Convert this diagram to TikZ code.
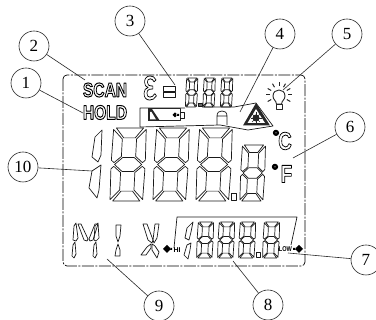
\documentclass[tikz,border=0pt]{standalone}
\usepackage{fontspec}
\setmainfont{Liberation Serif}
\newfontfamily\lcdfont{Liberation Sans}[BoldFont={Liberation Sans Bold}]
\usetikzlibrary{calc}
% one seven-segment digit: x, y of top left, width, height
\newcommand{\lcddigit}[4]{
\begin{scope}[shift={(#1,#2)},xscale=#3,yscale=#4,xslant=.11]
\draw[seg] (.10,0) -- (.90,0) -- (.67,.135) -- (.33,.135) -- cycle;
\draw[seg] (.02,.02) -- (.29,.15) -- (.29,.39) -- (.08,.475) -- (0,.44) -- cycle;
\draw[seg] (.98,.02) -- (.71,.15) -- (.71,.39) -- (.92,.475) -- (1,.44) -- cycle;
\draw[seg] (.10,.5) -- (.33,.405) -- (.67,.405) -- (.90,.5) -- (.67,.595) -- (.33,.595) -- cycle;
\draw[seg] (.02,.98) -- (.29,.85) -- (.29,.61) -- (.08,.525) -- (0,.56) -- cycle;
\draw[seg] (.98,.98) -- (.71,.85) -- (.71,.61) -- (.92,.525) -- (1,.56) -- cycle;
\draw[seg] (.10,1) -- (.90,1) -- (.67,.865) -- (.33,.865) -- cycle;
\end{scope}}
\newcommand{\hollowtext}[2]{\special{pdf:code 1 Tr #1 w}#2\special{pdf:code 0 Tr 0.55 w}}
\begin{document}
\begin{tikzpicture}[x=1pt,y=-1pt,line join=round,
 seg/.style={draw=black!90,line width=.7pt},
 callout/.style={circle,draw=black!85,line width=.6pt,minimum size=30pt,inner sep=0pt,font=\fontsize{17}{17}\selectfont},
 lead/.style={draw=black!85,line width=.6pt},
 lcdword/.style={inner sep=0pt,transform shape,font=\lcdfont\bfseries\fontsize{20}{20}\selectfont},
 small/.style={inner sep=0pt,font=\lcdfont\bfseries\fontsize{7}{7}\selectfont}]
\useasboundingbox (0,0) rectangle (376,320);
% display frame
\draw[line width=.7pt,rounded corners=4pt,dash pattern=on 12pt off 1.5pt on 2pt off 1.5pt] (63,75) rectangle (305,266);
% big digits
\foreach \x in {113,156,199}{\lcddigit{\x}{128}{34}{73}}
\lcddigit{242}{145}{24}{56}
\draw[seg] (92,157) -- (95,137) -- (102,130) -- (101,155) -- (98,162) -- cycle;
\draw[seg] (101,165) -- (92,171) -- (89,188) -- (97,198) -- (99,190) -- cycle;
\draw[seg] (231,193) rectangle (236,200);
% upper digits
\foreach \x in {186.5,204,221.5}{\lcddigit{\x}{78}{11.5}{29}}
\draw[seg,fill=black!60] (198.5,103) rectangle (202,106.5);
% lower digits
\foreach \x in {198,219,240,264}{\lcddigit{\x}{222}{16}{36}}
\draw[seg] (185,238) -- (187,228) -- (193,222) -- (191,232) -- (189,240) -- cycle;
\draw[seg] (191,243) -- (187,245) -- (184,255) -- (188,259) -- (190,250) -- cycle;
\draw[seg] (256,252) rectangle (260.5,257);
\draw[seg] (174,248) -- (177,217) -- (297,217) -- (291,245);
% mix
\draw[seg] (73,240) -- (74,226) -- (76,223) -- (78,238) -- (76,241) -- cycle;
\draw[seg] (72,256) -- (73,245) -- (75,242) -- (76,254) -- (74,258) -- cycle;
\draw[seg] (78,224) -- (81,224) -- (88,239) -- (87,241) -- (84,240) -- cycle;
\draw[seg] (98,224) -- (95,224) -- (89,239) -- (90,241) -- (93,240) -- cycle;
\draw[seg] (94,240) -- (95,226) -- (98,223) -- (99,238) -- (96,241) -- cycle;
\draw[seg] (93,256) -- (94,245) -- (96,242) -- (97,254) -- (95,258) -- cycle;
\draw[seg] (116,225) -- (121,225) -- (120,236) -- (118,242) -- (116,236) -- cycle;
\draw[seg] (115,256) -- (120,256) -- (120,250) -- (118,244) -- (116,250) -- cycle;
\draw[seg] (143,224) -- (147,224) -- (153,240) -- (152,243) -- (148,240) -- cycle;
\draw[seg] (159,224) -- (155,224) -- (153,240) -- (154,243) -- (157,238) -- cycle;
\draw[seg] (141,255) -- (146,255) -- (151,248) -- (151,244) -- (147,247) -- cycle;
\draw[seg] (157,258) -- (159,252) -- (155,246) -- (152,244) -- (152,250) -- cycle;
% hi and low marks
\fill[black] (163,249) -- (167,245) -- (171,249) -- (167,253) -- cycle (170,248) rectangle (172,250);
\node[small] (hi) at (177,250) {HI};
\node[small,transform shape,xscale=.8] (low) at (285.5,249) {LOW};
\fill[black] (295,249) -- (299,245) -- (303,249) -- (299,253) -- cycle (293,248) rectangle (296,250);
% words
\node[lcdword,xscale=.78] (scan) at (105,90) {\hollowtext{1}{SCAN}};
\node[lcdword,xscale=.78] (hold) at (105,112.5) {\hollowtext{1}{HOLD}};
\node[lcdword,xscale=.72,font=\lcdfont\fontsize{44}{44}\selectfont] (eps) at (150,88) {\hollowtext{.8}{ε}};
\draw[seg] (163,86) rectangle (175.5,91) (163,92.5) rectangle (175.5,97);
\node[lcdword,xscale=.75,font=\lcdfont\bfseries\fontsize{25}{25}\selectfont] (cel) at (285,141) {\hollowtext{.8}{C}};
\node[lcdword,xscale=.75,font=\lcdfont\bfseries\fontsize{25}{25}\selectfont] (fah) at (286.5,174) {\hollowtext{.8}{F}};
\node[small,font=\lcdfont\bfseries\fontsize{16}{16}\selectfont] (dega) at (276,136) {\hollowtext{1.2}{°}};
\node[small,font=\lcdfont\bfseries\fontsize{16}{16}\selectfont] (degb) at (275,170) {\hollowtext{1.2}{°}};
% icon panel
\draw[seg] (185,108) -- (140,108) -- (140,127) -- (220,125) -- (248,130) -- (273,126) -- (256,103) -- (234,107) -- (202,107);
% battery
\draw[line width=1pt,black!85] (180,109) -- (148,109) -- (148,121) -- (180,121) -- cycle;
\fill[black!85] (148,109) -- (152,109) -- (160,121) -- (148,121) -- cycle;
\fill[white] (150,112) -- (151.5,112) -- (156,119.5) -- (150,119.5) -- cycle;
\draw[seg] (180,112) -- (184,112) -- (184,118) -- (180,118);
\fill[black] (172.5,115) -- (175,112.5) -- (177.5,115) -- (175,117.5) -- cycle (176,114) rectangle (179,116);
% lock
\draw[seg] (217,125) -- (217,116) .. controls (217,112) and (219.5,111) .. (222,111) .. controls (224.5,111) and (227,112) .. (227,116) -- (227,125) (217,116) -- (227,116);
% laser mark
\fill[black!85] (256,103) -- (270,125.5) -- (243,125.5) -- cycle;
\fill[white] (256,109) -- (265,123) -- (247.5,123) -- cycle;
\fill[black!85] (256,118) circle (3.5pt);
\foreach \a in {0,45,...,315}{\draw[black!85,line width=.7pt] (256,118) -- ++(\a:5.5pt);}
% bulb
\draw[line width=.9pt,black!85] (276.5,104) .. controls (276,100) and (273,100) .. (273,96) .. controls (273,88) and (285,88) .. (285,96) .. controls (285,100) and (282,100) .. (281.5,104) -- cycle;
\draw[line width=.9pt,black!85] (276,104) rectangle (282,109);
\foreach \a in {-30,0,...,210}{\draw[line width=1pt,black!85] ($(279,95)+(\a:9pt)$) -- ($(279,95)+(\a:13pt)$);}
% callouts
\node[callout] (n1) at (26,83) {1};
\node[callout] (n2) at (34,46) {2};
\node[callout] (n3) at (130,21) {3};
\node[callout] (n4) at (280,34) {4};
\node[callout] (n5) at (347,34) {5};
\node[callout] (n6) at (350,127) {6};
\node[callout] (n7) at (366,260) {7};
\node[callout] (n8) at (268,305) {8};
\node[callout] (n9) at (159,306) {9};
\node[callout] (n10) at (23,167) {10};
\coordinate (e1) at (83,113);
\coordinate (e2) at (85,80);
\coordinate (e3) at (175,85);
\coordinate (e4) at (240,112);
\coordinate (e5) at (283,90);
\coordinate (e6) at (293,158);
\coordinate (e7) at (288,253);
\coordinate (e8) at (233,261);
\coordinate (e9) at (107,259);
\coordinate (e10) at (92,171);
\foreach \i in {1,...,10}{\draw[lead] (n\i) -- (e\i);}
\end{tikzpicture}
\end{document}
